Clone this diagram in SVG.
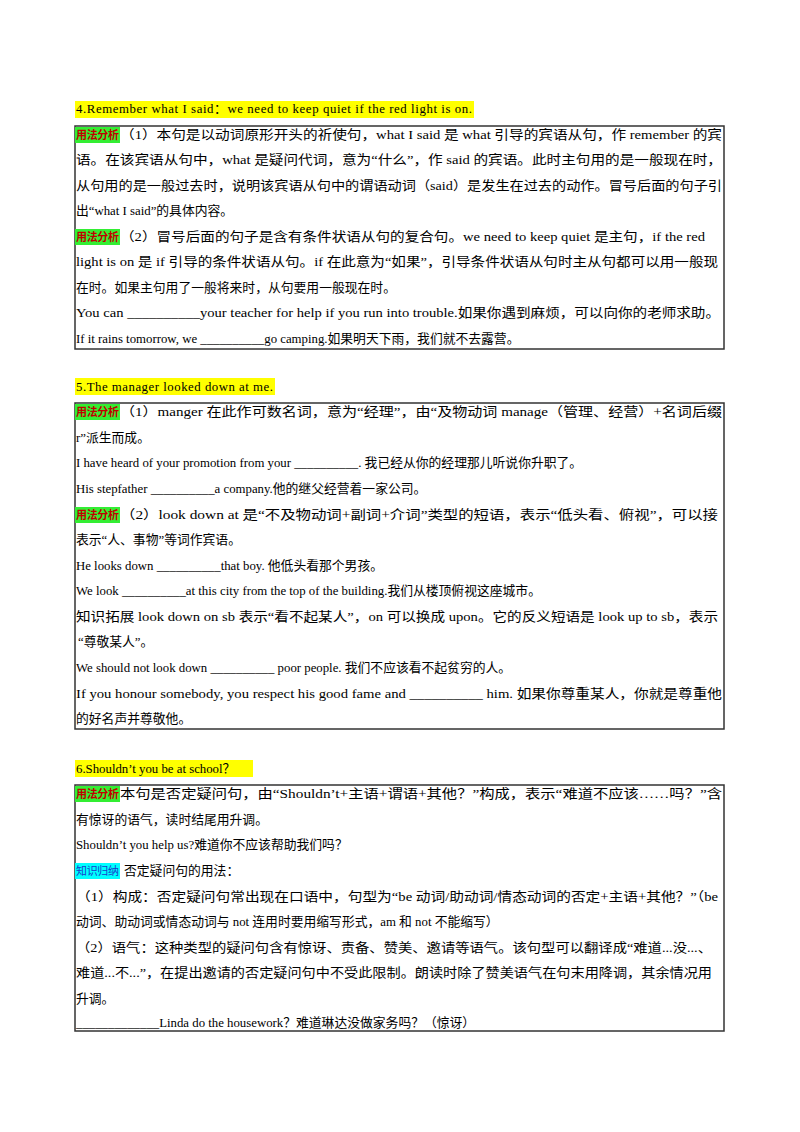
<svg xmlns="http://www.w3.org/2000/svg" width="800" height="1132" viewBox="0 0 800 1132">
<style>
text{font-family:"Liberation Serif","Noto Sans CJK SC",serif;font-size:12.8px;fill:#000}
.box{fill:none;stroke:#333;stroke-width:1.5}
.hl{fill:#ffff00}
.g{fill:#33ee33}
.c{fill:#00ffff}
.lab{font-size:11px;fill:#c00000;font-weight:bold}
.labc{font-size:11px;fill:#1a3ccc}
</style>
<rect width="800" height="1132" fill="#fff"/>
<g id="sec4">
<rect class="hl" x="75" y="101" width="399" height="17"/>
<text x="76" y="113" textLength="396" lengthAdjust="spacing">4.Remember what I said：we  need to keep quiet if the red light is on.</text>
<rect class="box" x="75" y="126" width="649" height="223"/>
<rect class="g" x="75" y="127" width="45" height="16"/><text class="lab" x="76" y="139" textLength="43">用法分析</text>
<text x="120" y="139" textLength="602" lengthAdjust="spacingAndGlyphs">（1）本句是以动词原形开头的祈使句，what I said 是 what 引导的宾语从句，作 remember 的宾</text>
<text x="76" y="164" textLength="646" lengthAdjust="spacingAndGlyphs">语。在该宾语从句中，what 是疑问代词，意为“什么”，作 said 的宾语。此时主句用的是一般现在时，</text>
<text x="76" y="190" textLength="646" lengthAdjust="spacingAndGlyphs">从句用的是一般过去时，说明该宾语从句中的谓语动词（said）是发生在过去的动作。冒号后面的句子引</text>
<text x="76" y="215">出“what I said”的具体内容。</text>
<rect class="g" x="75" y="229" width="45" height="16"/><text class="lab" x="76" y="241" textLength="43">用法分析</text>
<text x="120" y="241" textLength="585" lengthAdjust="spacingAndGlyphs">（2）冒号后面的句子是含有条件状语从句的复合句。we  need to keep quiet  是主句，if the red</text>
<text x="76" y="266" textLength="642" lengthAdjust="spacingAndGlyphs">light is on 是 if 引导的条件状语从句。if 在此意为“如果”，引导条件状语从句时主从句都可以用一般现</text>
<text x="76" y="292">在时。如果主句用了一般将来时，从句要用一般现在时。</text>
<text x="76" y="317" textLength="644" lengthAdjust="spacingAndGlyphs">You can  __________your teacher for help if you  run into trouble.如果你遇到麻烦，可以向你的老师求助。</text>
<text x="76" y="343">If it rains tomorrow, we  __________go  camping.如果明天下雨，我们就不去露营。</text>
</g>
<g id="sec5">
<rect class="hl" x="75" y="378" width="200" height="17"/>
<text x="76" y="391" textLength="197" lengthAdjust="spacing">5.The manager looked down at me.</text>
<rect class="box" x="75" y="403" width="649" height="326"/>
<rect class="g" x="75" y="404" width="45" height="16"/><text class="lab" x="76" y="416" textLength="43">用法分析</text>
<text x="120" y="416" textLength="602" lengthAdjust="spacingAndGlyphs">（1）manger 在此作可数名词，意为“经理”，由“及物动词 manage（管理、经营）+名词后缀</text>
<text x="76" y="442">r”派生而成。</text>
<text x="76" y="467">I have heard of your promotion from your  __________. 我已经从你的经理那儿听说你升职了。</text>
<text x="76" y="493">His stepfather  __________a  company.他的继父经营着一家公司。</text>
<rect class="g" x="75" y="507" width="45" height="16"/><text class="lab" x="76" y="519" textLength="43">用法分析</text>
<text x="120" y="519" textLength="598" lengthAdjust="spacingAndGlyphs">（2）look down at 是“不及物动词+副词+介词”类型的短语，表示“低头看、俯视”，可以接</text>
<text x="76" y="544">表示“人、事物”等词作宾语。</text>
<text x="76" y="570">He looks down  __________that boy.  他低头看那个男孩。</text>
<text x="76" y="595">We look  __________at this city from the top of the building.我们从楼顶俯视这座城市。</text>
<text x="76" y="621" textLength="642" lengthAdjust="spacingAndGlyphs">知识拓展  look down on sb 表示“看不起某人”，on 可以换成 upon。它的反义短语是 look up to sb，表示</text>
<text x="78" y="646">“尊敬某人”。</text>
<text x="76" y="672">We should not look down  __________  poor people.  我们不应该看不起贫穷的人。</text>
<text x="76" y="698" textLength="646" lengthAdjust="spacingAndGlyphs">If you honour somebody, you respect his good fame and  __________  him.  如果你尊重某人，你就是尊重他</text>
<text x="76" y="723">的好名声并尊敬他。</text>
</g>
<g id="sec6">
<rect class="hl" x="75" y="760" width="178" height="17"/>
<text x="76" y="773">6.Shouldn’t you be at school？</text>
<rect class="box" x="75" y="785" width="649" height="246"/>
<rect class="g" x="75" y="786" width="45" height="16"/><text class="lab" x="76" y="798" textLength="43">用法分析</text>
<text x="120" y="798" textLength="602" lengthAdjust="spacingAndGlyphs">本句是否定疑问句，由“Shouldn’t+主语+谓语+其他？”构成，表示“难道不应该……吗？”含</text>
<text x="76" y="824">有惊讶的语气，读时结尾用升调。</text>
<text x="76" y="849">Shouldn’t you help us?难道你不应该帮助我们吗？</text>
<rect class="c" x="75" y="863" width="45" height="16"/><text class="labc" x="76" y="875" textLength="43">知识归纳</text>
<text x="124" y="875">否定疑问句的用法：</text>
<text x="76" y="901" textLength="642" lengthAdjust="spacingAndGlyphs">（1）构成：否定疑问句常出现在口语中，句型为“be 动词/助动词/情态动词的否定+主语+其他？”（be</text>
<text x="76" y="926">动词、助动词或情态动词与 not 连用时要用缩写形式，am 和 not 不能缩写）</text>
<text x="76" y="952" textLength="636" lengthAdjust="spacingAndGlyphs">（2）语气：这种类型的疑问句含有惊讶、责备、赞美、邀请等语气。该句型可以翻译成“难道...没...、</text>
<text x="76" y="977" textLength="636" lengthAdjust="spacingAndGlyphs">难道...不...”，在提出邀请的否定疑问句中不受此限制。朗读时除了赞美语气在句末用降调，其余情况用</text>
<text x="76" y="1003">升调。</text>
<text x="76" y="1027">_____________Linda do the housework？难道琳达没做家务吗？（惊讶）</text>
</g>
</svg>
